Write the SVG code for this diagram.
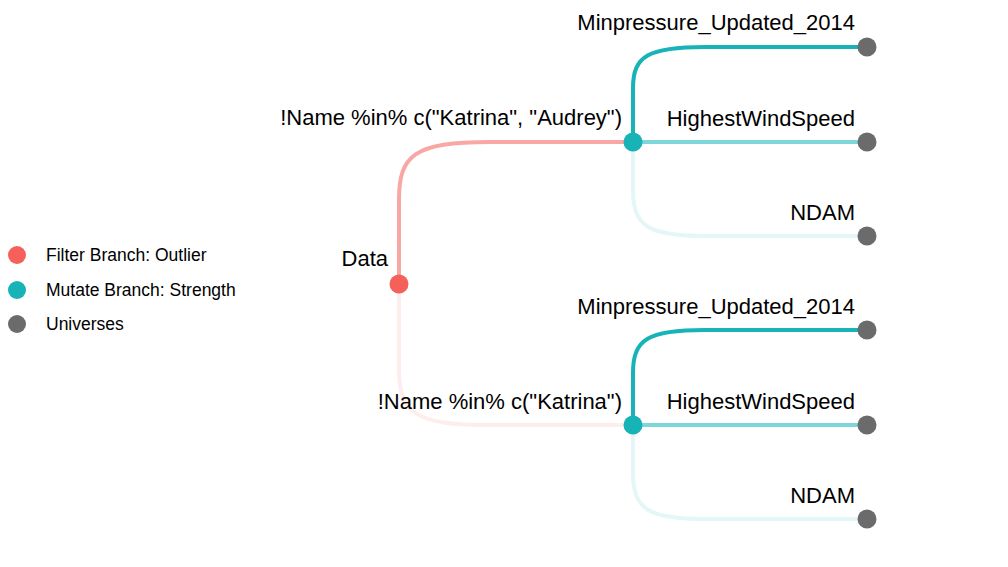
<svg xmlns="http://www.w3.org/2000/svg" width="1008" height="567" viewBox="0 0 1008 567">
<style>
text{font-family:"Liberation Sans",Arial,sans-serif;fill:#000}
.lbl{font-size:22px;text-anchor:end}
.leg{font-size:17.5px}
.e{fill:none;stroke-width:4}
.red{fill:#F6605A}
.teal{fill:#17B3B7}
.grey{fill:#6B6B6B}
</style>
<rect width="1008" height="567" fill="#fff"/>
<g id="connectors">
<path class="e" stroke="#F9A7A4" d="M399,284 L399,200 C399,155 414,142 490,142 L633,142"/>
<path class="e" stroke="#FEEDED" d="M399,284 L399,368 C399,413 414,425 490,425 L633,425"/>
<path class="e" stroke="#17B3B7" d="M633,142 L633,88 C633,56 648,47 705,47 L867,47"/>
<path class="e" stroke="#7DD6D8" d="M633,142 L867,142"/>
<path class="e" stroke="#E5F6F7" d="M633,142 L633,190 C633,226 648,236 705,236 L867,236"/>
<path class="e" stroke="#17B3B7" d="M633,425 L633,373 C633,339 648,330 705,330 L867,330"/>
<path class="e" stroke="#7DD6D8" d="M633,425 L867,425"/>
<path class="e" stroke="#E5F6F7" d="M633,425 L633,473 C633,509 648,519 705,519 L867,519"/>
</g>
<g id="node-data"><circle class="red" cx="399" cy="284" r="9.5"/><text class="lbl" x="388" y="265.5">Data</text></g>
<g id="node-f1"><circle class="teal" cx="633" cy="142" r="9.5"/><text class="lbl" x="622" y="124.5">!Name %in% c("Katrina", "Audrey")</text></g>
<g id="node-f2"><circle class="teal" cx="633" cy="425" r="9.5"/><text class="lbl" x="622" y="408.5">!Name %in% c("Katrina")</text></g>
<g id="node-u1"><circle class="grey" cx="867" cy="47" r="9.5"/><text class="lbl" x="855" y="29.5">Minpressure_Updated_2014</text></g>
<g id="node-u2"><circle class="grey" cx="867" cy="142" r="9.5"/><text class="lbl" x="855" y="125.5">HighestWindSpeed</text></g>
<g id="node-u3"><circle class="grey" cx="867" cy="236" r="9.5"/><text class="lbl" x="855" y="219.5">NDAM</text></g>
<g id="node-u4"><circle class="grey" cx="867" cy="330" r="9.5"/><text class="lbl" x="855" y="313.5">Minpressure_Updated_2014</text></g>
<g id="node-u5"><circle class="grey" cx="867" cy="425" r="9.5"/><text class="lbl" x="855" y="408.5">HighestWindSpeed</text></g>
<g id="node-u6"><circle class="grey" cx="867" cy="519" r="9.5"/><text class="lbl" x="855" y="502.5">NDAM</text></g>
<g id="legend">
<circle cx="17" cy="255" r="9" fill="#F6605A"/><text class="leg" x="46" y="261">Filter Branch: Outlier</text>
<circle cx="17" cy="290" r="9" fill="#17B3B7"/><text class="leg" x="46" y="296">Mutate Branch: Strength</text>
<circle cx="17" cy="324" r="9" fill="#6B6B6B"/><text class="leg" x="46" y="330">Universes</text>
</g>
</svg>
